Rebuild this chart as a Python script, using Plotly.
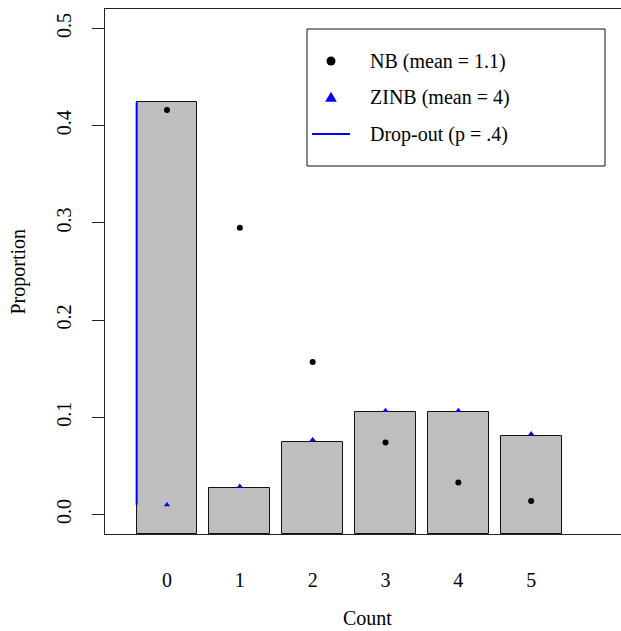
import plotly.graph_objects as go

# Observed proportions per count, with the two model fits
counts = [0, 1, 2, 3, 4, 5]
count_labels = ["0", "1", "2", "3", "4", "5"]
observed = [0.424, 0.027, 0.075, 0.106, 0.106, 0.081]
nb_fit = [0.416, 0.295, 0.157, 0.074, 0.033, 0.014]
zinb_fit = [0.010, 0.029, 0.077, 0.107, 0.107, 0.083]
dropout_p = 0.4

y_ticks = [0.0, 0.1, 0.2, 0.3, 0.4, 0.5]
y_tick_labels = ["0.0", "0.1", "0.2", "0.3", "0.4", "0.5"]

legend_labels = ["NB (mean = 1.1)", "ZINB (mean = 4)", "Drop-out (p = .4)"]

# Figure geometry
W, H = 621, 631
ML, MR, MT, MB = 105, 0, 9, 97
PW, PH = W - ML - MR, H - MT - MB
Y_MIN, Y_MAX = -0.02, 0.52
X_MIN, X_MAX = -0.851, 6.233
BAR_W = 1 / 1.2

FONT = "Liberation Serif"
FS = 20
BAR_FILL = "rgb(190,190,190)"
BLUE = "rgb(0,0,255)"


def px(xp):
    return (xp - ML) / PW


def py(yp):
    return (MT + PH - yp) / PH


fig = go.Figure()

# Bars rise from the bottom of the plotting region
fig.add_trace(go.Bar(
    x=counts,
    y=[v - Y_MIN for v in observed],
    base=Y_MIN,
    width=BAR_W,
    marker=dict(color=BAR_FILL, line=dict(color="#111", width=1)),
    showlegend=False,
    hoverinfo="skip",
))

# Drop-out component: the excess zeros above the count part of the ZINB
fig.add_trace(go.Scatter(
    x=[counts[0] - BAR_W / 2, counts[0] - BAR_W / 2],
    y=[zinb_fit[0], observed[0]],
    mode="lines",
    line=dict(color=BLUE, width=2),
    showlegend=False,
))

fig.add_trace(go.Scatter(
    x=counts, y=nb_fit, mode="markers",
    marker=dict(symbol="circle", size=6, color="black"),
    showlegend=False,
))

fig.add_trace(go.Scatter(
    x=counts, y=zinb_fit, mode="markers",
    marker=dict(symbol="triangle-up", size=5.5, color=BLUE),
    showlegend=False,
))

# Legend box with keys and labels
shapes = [
    dict(type="rect", xref="paper", yref="paper",
         x0=px(307), x1=px(605), y0=py(166), y1=py(29),
         line=dict(color="#111", width=1), fillcolor="white", layer="below"),
    dict(type="circle", xref="paper", yref="paper",
         xsizemode="pixel", ysizemode="pixel",
         xanchor=px(331), yanchor=py(61),
         x0=-4.5, x1=4.5, y0=-4.5, y1=4.5,
         fillcolor="black", line=dict(width=0)),
    dict(type="path", xref="paper", yref="paper",
         xsizemode="pixel", ysizemode="pixel",
         xanchor=px(331), yanchor=py(97),
         path="M-5.85,-4.7 L5.85,-4.7 L0,5.3 Z",
         fillcolor=BLUE, line=dict(width=0)),
    dict(type="line", xref="paper", yref="paper",
         x0=px(312), x1=px(350), y0=py(134), y1=py(134),
         line=dict(color=BLUE, width=2)),
]

annotations = [
    dict(text=lab, xref="paper", yref="paper", x=px(368), y=py(yy),
         xanchor="left", yanchor="middle", showarrow=False,
         font=dict(family=FONT, size=FS, color="black"))
    for lab, yy in zip(legend_labels, [61, 97, 134])
]

annotations += [
    dict(text="Count", xref="paper", yref="paper", x=px(367), y=0,
         xanchor="center", yanchor="middle", yshift=-84, showarrow=False,
         font=dict(family=FONT, size=FS, color="black")),
    dict(text="Proportion", xref="paper", yref="paper", x=0, y=0.5,
         xanchor="center", yanchor="middle", xshift=-87, textangle=-90,
         showarrow=False, font=dict(family=FONT, size=FS, color="black")),
]

fig.update_layout(
    width=W, height=H,
    margin=dict(l=ML, r=MR, t=MT, b=MB, pad=0),
    paper_bgcolor="white", plot_bgcolor="white",
    font=dict(family=FONT, size=FS, color="black"),
    shapes=shapes,
    annotations=annotations,
    bargap=0,
    xaxis=dict(
        range=[X_MIN, X_MAX], showgrid=False, zeroline=False,
        showline=True, mirror=True, linecolor="#222", linewidth=1,
        tickmode="array", tickvals=counts, ticktext=count_labels,
        ticks="", ticklabelstandoff=28,
        tickfont=dict(family=FONT, size=FS, color="black"),
    ),
    yaxis=dict(
        range=[Y_MIN, Y_MAX], showgrid=False, zeroline=False,
        showline=True, mirror=False, linecolor="#222", linewidth=1,
        tickmode="array", tickvals=y_ticks, ticktext=y_tick_labels,
        ticks="outside", ticklen=12, tickwidth=1, tickcolor="#222",
        tickangle=-90, ticklabelstandoff=13,
        tickfont=dict(family=FONT, size=FS, color="black"),
    ),
)

fig.write_html("out.html")
